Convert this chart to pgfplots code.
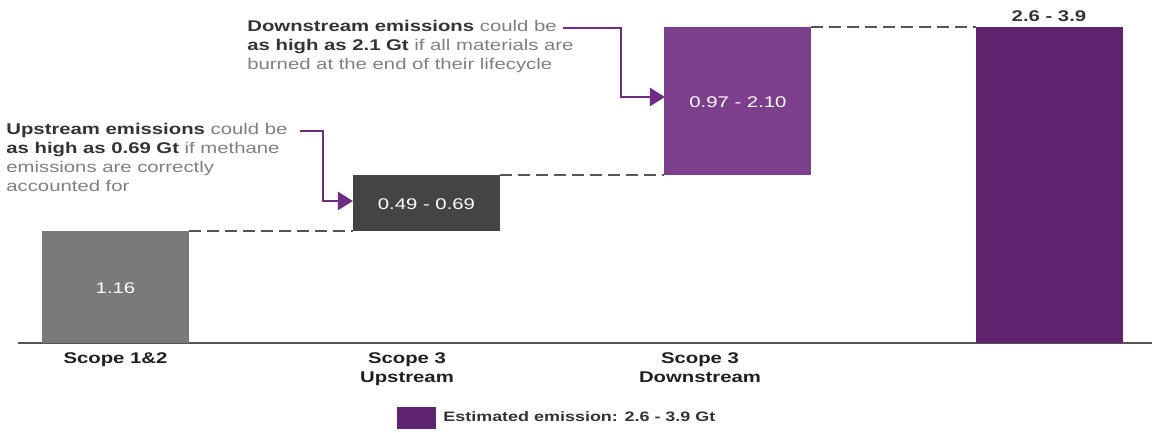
\documentclass[border=0pt]{standalone}
\usepackage{pgfplots}
\pgfplotsset{compat=1.18}
\usepackage{fontspec}
\setmainfont{Liberation Sans}[FakeStretch=1.31]
\usetikzlibrary{arrows.meta}
\definecolor{cA}{HTML}{7A7A7A}
\definecolor{cB}{HTML}{444444}
\definecolor{cC}{HTML}{7B3F8C}
\definecolor{cD}{HTML}{5E2470}
\definecolor{arr}{HTML}{6C2D82}
\definecolor{tdark}{HTML}{333333}
\definecolor{tgray}{HTML}{7F7F7F}
\definecolor{dashc}{HTML}{555555}
\newcommand{\fs}{\fontsize{7.75bp}{9.5bp}\selectfont}
\newcommand{\fl}{\fontsize{6.85bp}{8.5bp}\selectfont}
\begin{document}
\begin{tikzpicture}
\useasboundingbox (0,0) rectangle (578bp,216.5bp);
\begin{axis}[at={(0,0)}, anchor=south west, scale only axis,
  width=578bp, height=216.5bp,
  xmin=-0.3711, xmax=3.3435, ymin=-0.9356, ymax=3.5655,
  hide axis, clip=false, ybar stacked, bar width=0.4724]
% invisible base of the waterfall
\addplot[draw=none, fill=none] coordinates {(0,0) (1,1.16) (2,1.75) (3,0)};
\addplot[fill=cA, draw=none] coordinates {(0,1.16) (1,0) (2,0) (3,0)};
\addplot[fill=cB, draw=none] coordinates {(0,0) (1,0.59) (2,0) (3,0)};
\addplot[fill=cC, draw=none] coordinates {(0,0) (1,0) (2,1.535) (3,0)};
\addplot[fill=cD, draw=none] coordinates {(0,0) (1,0) (2,0) (3,3.285)};
% connectors
\draw[dashc, line width=1bp, dash pattern=on 6bp off 3bp] (axis cs:0.2362,1.16) -- (axis cs:0.7638,1.16);
\draw[dashc, line width=1bp, dash pattern=on 6bp off 3bp] (axis cs:1.2362,1.75) -- (axis cs:1.7638,1.75);
\draw[dashc, line width=1bp, dash pattern=on 6bp off 3bp] (axis cs:2.2362,3.285) -- (axis cs:2.7638,3.285);
% baseline
\draw[dashc, line width=0.8bp] (axis cs:-0.3133,0) -- (axis cs:3.3307,0);
\end{axis}
\begin{scope}[shift={(0,216.5bp)}, x=0.5bp, y=-0.5bp]
% values
\node[white, font=\fs] at (115.5,288) {1.16};
\node[white, font=\fs] at (426.5,204) {0.49 - 0.69};
\node[white, font=\fs] at (738,102) {0.97 - 2.10};
\node[tdark, font=\fs\bfseries, anchor=base] at (1049,22) {2.6 - 3.9};
% category labels
\node[anchor=base, font=\fs\bfseries, text=black!88] at (115.5,364) {Scope 1\&2};
\node[anchor=base, font=\fs\bfseries, text=black!88] at (407,364) {Scope 3};
\node[anchor=base, font=\fs\bfseries, text=black!88] at (407,383) {Upstream};
\node[anchor=base, font=\fs\bfseries, text=black!88] at (700,364) {Scope 3};
\node[anchor=base, font=\fs\bfseries, text=black!88] at (700,383) {Downstream};
% legend
\fill[cD] (397,407) rectangle (436,429);
\node[anchor=base west, font=\fl\bfseries, text=tdark, inner sep=0pt] at (443,422) {Estimated emission: 2.6 - 3.9 Gt};
% downstream annotation
\node[anchor=base west, font=\fs, inner sep=0pt] at (247,32) {\textcolor{tdark}{\bfseries Downstream emissions} \textcolor{tgray}{could be}};
\node[anchor=base west, font=\fs, inner sep=0pt] at (247,51) {\textcolor{tdark}{\bfseries as high as 2.1 Gt} \textcolor{tgray}{if all materials are}};
\node[anchor=base west, font=\fs, inner sep=0pt] at (247,70) {\textcolor{tgray}{burned at the end of their lifecycle}};
\draw[arr, line width=1.1bp, -{Triangle[length=7.5bp,width=9bp]}] (563,28) -- (621,28) -- (621,97) -- (665,97);
% upstream annotation
\node[anchor=base west, font=\fs, inner sep=0pt] at (6,135) {\textcolor{tdark}{\bfseries Upstream emissions} \textcolor{tgray}{could be}};
\node[anchor=base west, font=\fs, inner sep=0pt] at (6,154) {\textcolor{tdark}{\bfseries as high as 0.69 Gt} \textcolor{tgray}{if methane}};
\node[anchor=base west, font=\fs, inner sep=0pt] at (6,173) {\textcolor{tgray}{emissions are correctly}};
\node[anchor=base west, font=\fs, inner sep=0pt] at (6,192) {\textcolor{tgray}{accounted for}};
\draw[arr, line width=1.1bp, -{Triangle[length=7.5bp,width=9bp]}] (300,131) -- (323,131) -- (323,201) -- (353,201);
\end{scope}
\end{tikzpicture}
\end{document}
